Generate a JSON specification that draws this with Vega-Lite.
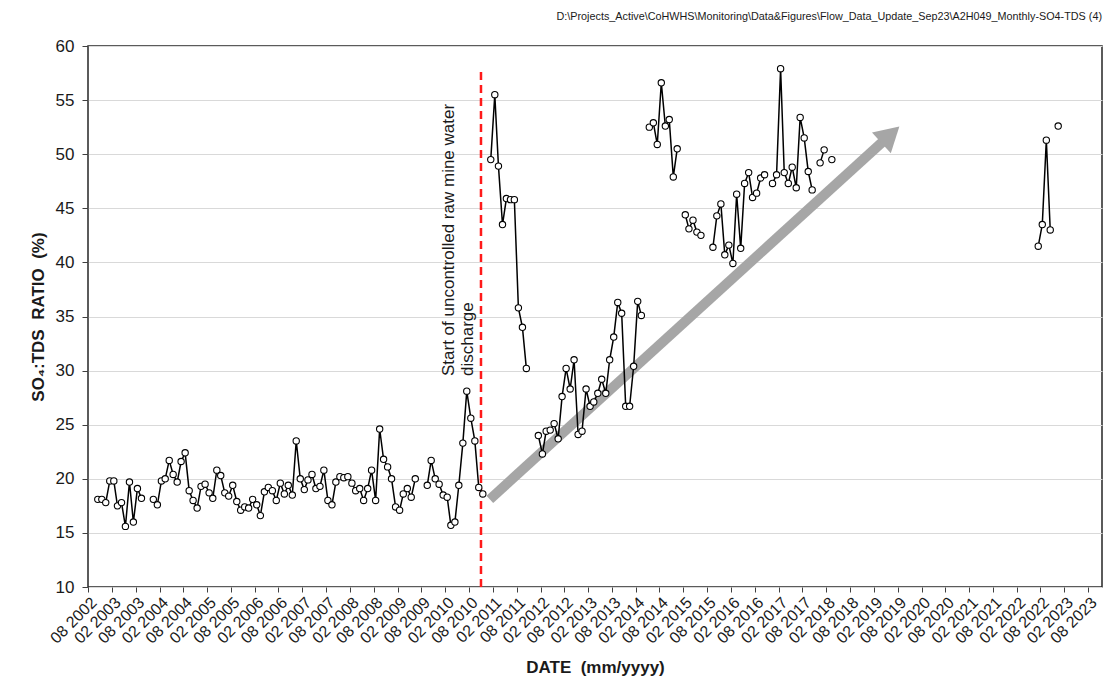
{
  "$schema": "https://vega.github.io/schema/vega-lite/v6.json",
  "width": 1014,
  "height": 541,
  "autosize": {"type": "none"},
  "padding": {"left": 88, "top": 46, "right": 13, "bottom": 100},
  "background": "white",
  "title": {
    "text": "D:\\Projects_Active\\CoHWHS\\Monitoring\\Data&Figures\\Flow_Data_Update_Sep23\\A2H049_Monthly-SO4-TDS (4)",
    "anchor": "end",
    "frame": "group",
    "font": "Liberation Sans",
    "fontSize": 10.8,
    "fontWeight": "normal",
    "color": "#1a1a1a",
    "offset": 15
  },
  "config": {
    "font": "Liberation Sans",
    "view": {"stroke": "#262626", "strokeWidth": 1.5},
    "axis": {
      "domain": false,
      "labelFont": "Liberation Sans",
      "titleFont": "Liberation Sans",
      "labelColor": "#1a1a1a",
      "titleColor": "#1a1a1a",
      "tickColor": "#404040"
    }
  },
  "datasets": {
    "so4": [
      {"date": "2002-10-15", "v": 18.1, "s": "A"},
      {"date": "2002-11-15", "v": 18.1, "s": "A"},
      {"date": "2002-12-15", "v": 17.8, "s": "A"},
      {"date": "2003-01-15", "v": 19.8, "s": "A"},
      {"date": "2003-02-15", "v": 19.8, "s": "A"},
      {"date": "2003-03-15", "v": 17.5, "s": "A"},
      {"date": "2003-04-15", "v": 17.8, "s": "A"},
      {"date": "2003-05-15", "v": 15.6, "s": "A"},
      {"date": "2003-06-15", "v": 19.7, "s": "A"},
      {"date": "2003-07-15", "v": 16.0, "s": "A"},
      {"date": "2003-08-15", "v": 19.1, "s": "A"},
      {"date": "2003-09-15", "v": 18.2, "s": "A"},
      {"date": "2003-12-15", "v": 18.1, "s": "B"},
      {"date": "2004-01-15", "v": 17.6, "s": "B"},
      {"date": "2004-02-15", "v": 19.8, "s": "B"},
      {"date": "2004-03-15", "v": 20.0, "s": "B"},
      {"date": "2004-04-15", "v": 21.7, "s": "B"},
      {"date": "2004-05-15", "v": 20.4, "s": "B"},
      {"date": "2004-06-15", "v": 19.7, "s": "B"},
      {"date": "2004-07-15", "v": 21.6, "s": "B"},
      {"date": "2004-08-15", "v": 22.4, "s": "B"},
      {"date": "2004-09-15", "v": 18.9, "s": "B"},
      {"date": "2004-10-15", "v": 18.0, "s": "B"},
      {"date": "2004-11-15", "v": 17.3, "s": "B"},
      {"date": "2004-12-15", "v": 19.3, "s": "B"},
      {"date": "2005-01-15", "v": 19.5, "s": "B"},
      {"date": "2005-02-15", "v": 18.7, "s": "B"},
      {"date": "2005-03-15", "v": 18.2, "s": "B"},
      {"date": "2005-04-15", "v": 20.8, "s": "B"},
      {"date": "2005-05-15", "v": 20.3, "s": "B"},
      {"date": "2005-06-15", "v": 18.7, "s": "B"},
      {"date": "2005-07-15", "v": 18.4, "s": "B"},
      {"date": "2005-08-15", "v": 19.4, "s": "B"},
      {"date": "2005-09-15", "v": 17.9, "s": "B"},
      {"date": "2005-10-15", "v": 17.1, "s": "B"},
      {"date": "2005-11-15", "v": 17.4, "s": "B"},
      {"date": "2005-12-15", "v": 17.3, "s": "B"},
      {"date": "2006-01-15", "v": 18.1, "s": "B"},
      {"date": "2006-02-15", "v": 17.6, "s": "B"},
      {"date": "2006-03-15", "v": 16.6, "s": "B"},
      {"date": "2006-04-15", "v": 18.8, "s": "B"},
      {"date": "2006-05-15", "v": 19.2, "s": "B"},
      {"date": "2006-06-15", "v": 18.9, "s": "B"},
      {"date": "2006-07-15", "v": 18.0, "s": "B"},
      {"date": "2006-08-15", "v": 19.6, "s": "B"},
      {"date": "2006-09-15", "v": 18.6, "s": "B"},
      {"date": "2006-10-15", "v": 19.4, "s": "B"},
      {"date": "2006-11-15", "v": 18.5, "s": "B"},
      {"date": "2006-12-15", "v": 23.5, "s": "B"},
      {"date": "2007-01-15", "v": 20.0, "s": "B"},
      {"date": "2007-02-15", "v": 19.0, "s": "B"},
      {"date": "2007-03-15", "v": 19.9, "s": "B"},
      {"date": "2007-04-15", "v": 20.4, "s": "B"},
      {"date": "2007-05-15", "v": 19.1, "s": "B"},
      {"date": "2007-06-15", "v": 19.3, "s": "B"},
      {"date": "2007-07-15", "v": 20.8, "s": "B"},
      {"date": "2007-08-15", "v": 18.0, "s": "B"},
      {"date": "2007-09-15", "v": 17.6, "s": "B"},
      {"date": "2007-10-15", "v": 19.7, "s": "B"},
      {"date": "2007-11-15", "v": 20.2, "s": "B"},
      {"date": "2007-12-15", "v": 20.1, "s": "B"},
      {"date": "2008-01-15", "v": 20.2, "s": "B"},
      {"date": "2008-02-15", "v": 19.6, "s": "B"},
      {"date": "2008-03-15", "v": 18.9, "s": "B"},
      {"date": "2008-04-15", "v": 19.1, "s": "B"},
      {"date": "2008-05-15", "v": 18.0, "s": "B"},
      {"date": "2008-06-15", "v": 19.1, "s": "B"},
      {"date": "2008-07-15", "v": 20.8, "s": "B"},
      {"date": "2008-08-15", "v": 18.0, "s": "B"},
      {"date": "2008-09-15", "v": 24.6, "s": "B"},
      {"date": "2008-10-15", "v": 21.8, "s": "B"},
      {"date": "2008-11-15", "v": 21.1, "s": "B"},
      {"date": "2008-12-15", "v": 20.0, "s": "B"},
      {"date": "2009-01-15", "v": 17.4, "s": "B"},
      {"date": "2009-02-15", "v": 17.1, "s": "B"},
      {"date": "2009-03-15", "v": 18.6, "s": "B"},
      {"date": "2009-04-15", "v": 19.1, "s": "B"},
      {"date": "2009-05-15", "v": 18.3, "s": "B"},
      {"date": "2009-06-15", "v": 20.0, "s": "B"},
      {"date": "2009-09-15", "v": 19.4, "s": "C"},
      {"date": "2009-10-15", "v": 21.7, "s": "C"},
      {"date": "2009-11-15", "v": 20.0, "s": "C"},
      {"date": "2009-12-15", "v": 19.5, "s": "C"},
      {"date": "2010-01-15", "v": 18.5, "s": "C"},
      {"date": "2010-02-15", "v": 18.3, "s": "C"},
      {"date": "2010-03-15", "v": 15.7, "s": "C"},
      {"date": "2010-04-15", "v": 16.0, "s": "C"},
      {"date": "2010-05-15", "v": 19.4, "s": "C"},
      {"date": "2010-06-15", "v": 23.3, "s": "C"},
      {"date": "2010-07-15", "v": 28.1, "s": "C"},
      {"date": "2010-08-15", "v": 25.6, "s": "C"},
      {"date": "2010-09-15", "v": 23.5, "s": "C"},
      {"date": "2010-10-15", "v": 19.2, "s": "C"},
      {"date": "2010-11-15", "v": 18.6, "s": "C"},
      {"date": "2011-01-15", "v": 49.5, "s": "D"},
      {"date": "2011-02-15", "v": 55.5, "s": "D"},
      {"date": "2011-03-15", "v": 48.9, "s": "D"},
      {"date": "2011-04-15", "v": 43.5, "s": "D"},
      {"date": "2011-05-15", "v": 45.9, "s": "D"},
      {"date": "2011-06-15", "v": 45.8, "s": "D"},
      {"date": "2011-07-15", "v": 45.8, "s": "D"},
      {"date": "2011-08-15", "v": 35.8, "s": "D"},
      {"date": "2011-09-15", "v": 34.0, "s": "D"},
      {"date": "2011-10-15", "v": 30.2, "s": "D"},
      {"date": "2012-01-15", "v": 24.0, "s": "E"},
      {"date": "2012-02-15", "v": 22.3, "s": "E"},
      {"date": "2012-03-15", "v": 24.4, "s": "E"},
      {"date": "2012-04-15", "v": 24.5, "s": "E"},
      {"date": "2012-05-15", "v": 25.1, "s": "E"},
      {"date": "2012-06-15", "v": 23.7, "s": "E"},
      {"date": "2012-07-15", "v": 27.6, "s": "E"},
      {"date": "2012-08-15", "v": 30.2, "s": "E"},
      {"date": "2012-09-15", "v": 28.3, "s": "E"},
      {"date": "2012-10-15", "v": 31.0, "s": "E"},
      {"date": "2012-11-15", "v": 24.1, "s": "E"},
      {"date": "2012-12-15", "v": 24.4, "s": "E"},
      {"date": "2013-01-15", "v": 28.3, "s": "E"},
      {"date": "2013-02-15", "v": 26.7, "s": "E"},
      {"date": "2013-03-15", "v": 27.1, "s": "E"},
      {"date": "2013-04-15", "v": 27.9, "s": "E"},
      {"date": "2013-05-15", "v": 29.2, "s": "E"},
      {"date": "2013-06-15", "v": 27.9, "s": "E"},
      {"date": "2013-07-15", "v": 31.0, "s": "E"},
      {"date": "2013-08-15", "v": 33.1, "s": "E"},
      {"date": "2013-09-15", "v": 36.3, "s": "E"},
      {"date": "2013-10-15", "v": 35.3, "s": "E"},
      {"date": "2013-11-15", "v": 26.7, "s": "E"},
      {"date": "2013-12-15", "v": 26.7, "s": "E"},
      {"date": "2014-01-15", "v": 30.4, "s": "E"},
      {"date": "2014-02-15", "v": 36.4, "s": "E"},
      {"date": "2014-03-15", "v": 35.1, "s": "E"},
      {"date": "2014-05-15", "v": 52.5, "s": "F"},
      {"date": "2014-06-15", "v": 52.9, "s": "F"},
      {"date": "2014-07-15", "v": 50.9, "s": "F"},
      {"date": "2014-08-15", "v": 56.6, "s": "F"},
      {"date": "2014-09-15", "v": 52.6, "s": "F"},
      {"date": "2014-10-15", "v": 53.2, "s": "F"},
      {"date": "2014-11-15", "v": 47.9, "s": "F"},
      {"date": "2014-12-15", "v": 50.5, "s": "F"},
      {"date": "2015-02-15", "v": 44.4, "s": "G"},
      {"date": "2015-03-15", "v": 43.1, "s": "G"},
      {"date": "2015-04-15", "v": 43.9, "s": "G"},
      {"date": "2015-05-15", "v": 42.8, "s": "G"},
      {"date": "2015-06-15", "v": 42.5, "s": "G"},
      {"date": "2015-09-15", "v": 41.4, "s": "H"},
      {"date": "2015-10-15", "v": 44.3, "s": "H"},
      {"date": "2015-11-15", "v": 45.4, "s": "H"},
      {"date": "2015-12-15", "v": 40.7, "s": "H"},
      {"date": "2016-01-15", "v": 41.6, "s": "H"},
      {"date": "2016-02-15", "v": 39.9, "s": "H"},
      {"date": "2016-03-15", "v": 46.3, "s": "H"},
      {"date": "2016-04-15", "v": 41.3, "s": "H"},
      {"date": "2016-05-15", "v": 47.3, "s": "H"},
      {"date": "2016-06-15", "v": 48.3, "s": "H"},
      {"date": "2016-07-15", "v": 46.0, "s": "H"},
      {"date": "2016-08-15", "v": 46.4, "s": "H"},
      {"date": "2016-09-15", "v": 47.8, "s": "H"},
      {"date": "2016-10-15", "v": 48.1, "s": "H"},
      {"date": "2016-12-15", "v": 47.3, "s": "I"},
      {"date": "2017-01-15", "v": 48.1, "s": "I"},
      {"date": "2017-02-15", "v": 57.9, "s": "I"},
      {"date": "2017-03-15", "v": 48.3, "s": "I"},
      {"date": "2017-04-15", "v": 47.3, "s": "I"},
      {"date": "2017-05-15", "v": 48.8, "s": "I"},
      {"date": "2017-06-15", "v": 46.9, "s": "I"},
      {"date": "2017-07-15", "v": 53.4, "s": "I"},
      {"date": "2017-08-15", "v": 51.5, "s": "I"},
      {"date": "2017-09-15", "v": 48.4, "s": "I"},
      {"date": "2017-10-15", "v": 46.7, "s": "I"},
      {"date": "2017-12-15", "v": 49.2, "s": "J"},
      {"date": "2018-01-15", "v": 50.4, "s": "J"},
      {"date": "2018-03-15", "v": 49.5, "s": "K"},
      {"date": "2022-07-15", "v": 41.5, "s": "L"},
      {"date": "2022-08-15", "v": 43.5, "s": "L"},
      {"date": "2022-09-15", "v": 51.3, "s": "L"},
      {"date": "2022-10-15", "v": 43.0, "s": "L"},
      {"date": "2022-12-15", "v": 52.6, "s": "M"}
    ]
  },
  "encoding": {
    "x": {
      "field": "date",
      "type": "temporal",
      "scale": {
        "type": "utc",
        "domain": [
          {"year": 2002, "month": 8, "date": 1, "utc": true},
          {"year": 2023, "month": 11, "date": 16, "utc": true}
        ]
      },
      "axis": {
        "title": "DATE\u00a0\u00a0(mm/yyyy)",
        "titleFontSize": 17,
        "titleFontWeight": "bold",
        "titlePadding": 13,
        "labelFontSize": 16,
        "labelAngle": -45,
        "labelExpr": "utcFormat(datum.value, '%m %Y')",
        "tickSize": 5,
        "labelPadding": 2,
        "grid": false,
        "labelOverlap": false,
        "values": [
          {"year": 2002, "month": 8, "date": 1, "utc": true},
          {"year": 2003, "month": 2, "date": 1, "utc": true},
          {"year": 2003, "month": 8, "date": 1, "utc": true},
          {"year": 2004, "month": 2, "date": 1, "utc": true},
          {"year": 2004, "month": 8, "date": 1, "utc": true},
          {"year": 2005, "month": 2, "date": 1, "utc": true},
          {"year": 2005, "month": 8, "date": 1, "utc": true},
          {"year": 2006, "month": 2, "date": 1, "utc": true},
          {"year": 2006, "month": 8, "date": 1, "utc": true},
          {"year": 2007, "month": 2, "date": 1, "utc": true},
          {"year": 2007, "month": 8, "date": 1, "utc": true},
          {"year": 2008, "month": 2, "date": 1, "utc": true},
          {"year": 2008, "month": 8, "date": 1, "utc": true},
          {"year": 2009, "month": 2, "date": 1, "utc": true},
          {"year": 2009, "month": 8, "date": 1, "utc": true},
          {"year": 2010, "month": 2, "date": 1, "utc": true},
          {"year": 2010, "month": 8, "date": 1, "utc": true},
          {"year": 2011, "month": 2, "date": 1, "utc": true},
          {"year": 2011, "month": 8, "date": 1, "utc": true},
          {"year": 2012, "month": 2, "date": 1, "utc": true},
          {"year": 2012, "month": 8, "date": 1, "utc": true},
          {"year": 2013, "month": 2, "date": 1, "utc": true},
          {"year": 2013, "month": 8, "date": 1, "utc": true},
          {"year": 2014, "month": 2, "date": 1, "utc": true},
          {"year": 2014, "month": 8, "date": 1, "utc": true},
          {"year": 2015, "month": 2, "date": 1, "utc": true},
          {"year": 2015, "month": 8, "date": 1, "utc": true},
          {"year": 2016, "month": 2, "date": 1, "utc": true},
          {"year": 2016, "month": 8, "date": 1, "utc": true},
          {"year": 2017, "month": 2, "date": 1, "utc": true},
          {"year": 2017, "month": 8, "date": 1, "utc": true},
          {"year": 2018, "month": 2, "date": 1, "utc": true},
          {"year": 2018, "month": 8, "date": 1, "utc": true},
          {"year": 2019, "month": 2, "date": 1, "utc": true},
          {"year": 2019, "month": 8, "date": 1, "utc": true},
          {"year": 2020, "month": 2, "date": 1, "utc": true},
          {"year": 2020, "month": 8, "date": 1, "utc": true},
          {"year": 2021, "month": 2, "date": 1, "utc": true},
          {"year": 2021, "month": 8, "date": 1, "utc": true},
          {"year": 2022, "month": 2, "date": 1, "utc": true},
          {"year": 2022, "month": 8, "date": 1, "utc": true},
          {"year": 2023, "month": 2, "date": 1, "utc": true},
          {"year": 2023, "month": 8, "date": 1, "utc": true}
        ]
      }
    },
    "y": {
      "field": "v",
      "type": "quantitative",
      "scale": {"domain": [10, 60], "nice": false, "zero": false},
      "axis": {
        "title": "SO₄:TDS\u00a0\u00a0RATIO\u00a0\u00a0(%)",
        "titleFontSize": 17,
        "titleFontWeight": "bold",
        "titlePadding": 8,
        "labelFontSize": 17,
        "labelPadding": 8,
        "tickSize": 6,
        "values": [10, 15, 20, 25, 30, 35, 40, 45, 50, 55, 60],
        "grid": true,
        "gridColor": "#d9d9d9",
        "gridWidth": 1
      }
    }
  },
  "layer": [
    {
      "data": {"values": [{"date": "2010-11-01", "v": 10, "v2": 57.6}]},
      "mark": {"type": "rule", "color": "#ff1a1a", "strokeWidth": 2.5, "strokeDash": [8, 5]},
      "encoding": {"y2": {"field": "v2"}}
    },
    {
      "data": {"values": [{"date": "2011-01-08", "v": 18.1, "date2": "2019-06-07", "v2": 51.8}]},
      "mark": {"type": "rule", "color": "#a6a6a6", "strokeWidth": 10, "strokeCap": "butt"},
      "encoding": {"x2": {"field": "date2"}, "y2": {"field": "v2"}}
    },
    {
      "data": {"values": [{"date": "2019-06-07", "v": 51.8}]},
      "mark": {"type": "point", "shape": "triangle-up", "filled": true, "color": "#a6a6a6", "size": 784, "angle": 47.8, "opacity": 1}
    },
    {
      "data": {"name": "so4"},
      "mark": {"type": "line", "color": "black", "strokeWidth": 1.5},
      "encoding": {"detail": {"field": "s"}}
    },
    {
      "data": {"name": "so4"},
      "mark": {"type": "point", "filled": true, "fill": "white", "stroke": "black", "strokeWidth": 1.1, "size": 40, "opacity": 1}
    },
    {
      "data": {"values": [{"date": "2009-12-29", "v": 29.5, "label": ["Start of uncontrolled raw mine water", "discharge"]}]},
      "mark": {"type": "text", "angle": -90, "align": "left", "baseline": "top", "fontSize": 17, "lineHeight": 19, "color": "#1a1a1a", "font": "Liberation Sans"},
      "encoding": {"text": {"field": "label"}}
    }
  ]
}
